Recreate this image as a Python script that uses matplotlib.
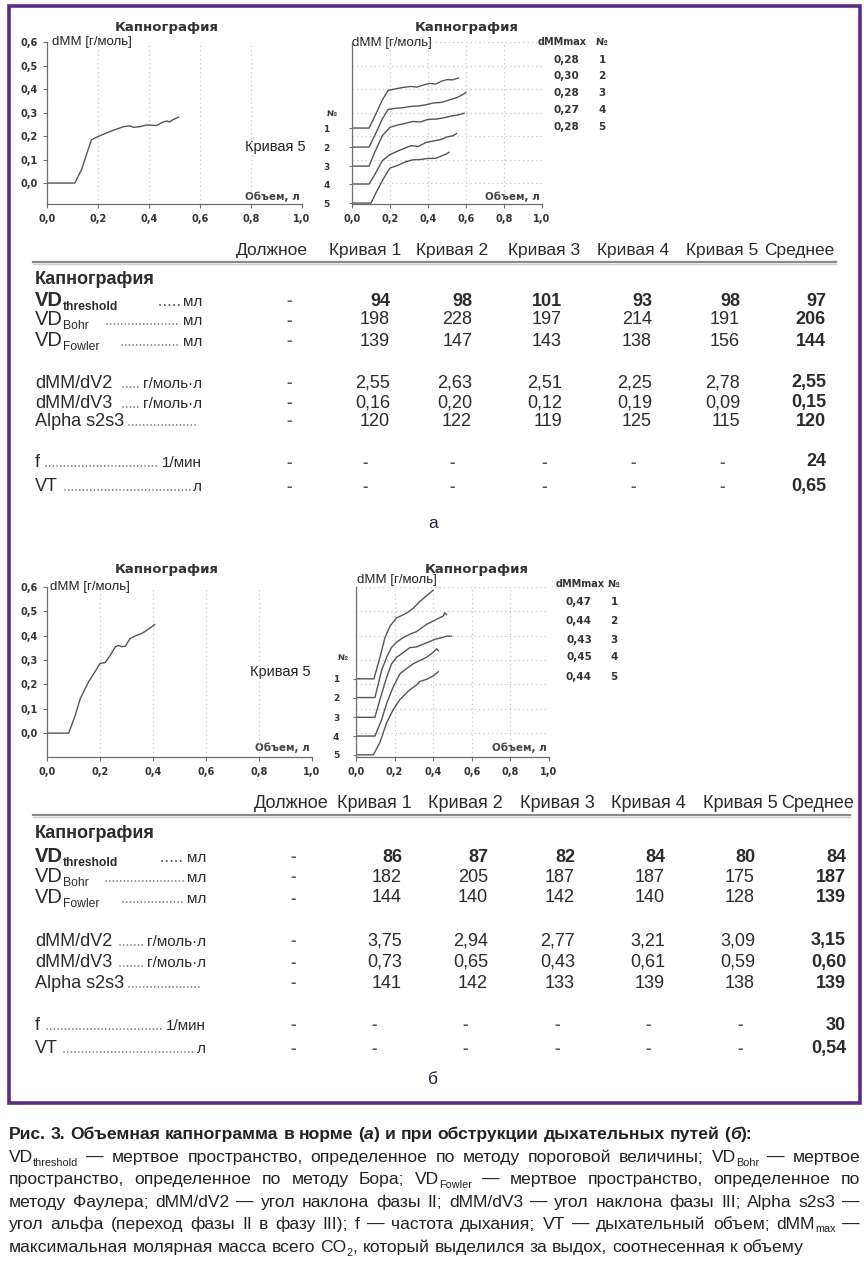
import re
import matplotlib
matplotlib.use("Agg")
import matplotlib.pyplot as plt
from matplotlib.patches import Rectangle

# ── 0.  Data ────────────────────────────────────────────────────────────────
COLS = ["Должное", "Кривая 1", "Кривая 2", "Кривая 3", "Кривая 4", "Кривая 5", "Среднее"]
ROW_LABELS = ["VD_{threshold}", "VD_{Bohr}", "VD_{Fowler}", "dMM/dV2", "dMM/dV3",
              "Alpha s2s3", "f", "VT"]
ROW_UNITS = ["мл", "мл", "мл", "г/моль·л", "г/моль·л", "", "1/мин", "л"]
CURVE_NO = ["1", "2", "3", "4", "5"]
X_TICKS = [0.0, 0.2, 0.4, 0.6, 0.8, 1.0]
Y_TICKS = [0.0, 0.1, 0.2, 0.3, 0.4, 0.5, 0.6]

# panel а (норма): Кривая 1..5 + Среднее
A_VD_THRESHOLD = [94, 98, 101, 93, 98, 97]
A_VD_BOHR = [198, 228, 197, 214, 191, 206]
A_VD_FOWLER = [139, 147, 143, 138, 156, 144]
A_DMM_DV2 = [2.55, 2.63, 2.51, 2.25, 2.78, 2.55]
A_DMM_DV3 = [0.16, 0.20, 0.12, 0.19, 0.09, 0.15]
A_ALPHA = [120, 122, 119, 125, 115, 120]
A_F = [None, None, None, None, None, 24]
A_VT = [None, None, None, None, None, 0.65]
A_DMM_MAX = [0.28, 0.30, 0.28, 0.27, 0.28]

# panel б (обструкция)
B_VD_THRESHOLD = [86, 87, 82, 84, 80, 84]
B_VD_BOHR = [182, 205, 187, 187, 175, 187]
B_VD_FOWLER = [144, 140, 142, 140, 128, 139]
B_DMM_DV2 = [3.75, 2.94, 2.77, 3.21, 3.09, 3.15]
B_DMM_DV3 = [0.73, 0.65, 0.43, 0.61, 0.59, 0.60]
B_ALPHA = [141, 142, 133, 139, 138, 139]
B_F = [None, None, None, None, None, 30]
B_VT = [None, None, None, None, None, 0.54]
B_DMM_MAX = [0.47, 0.44, 0.43, 0.45, 0.44]

# capnogram, panel а, curve 5 (left chart)
A5_X = [0, 0.109, 0.135, 0.174, 0.2, 0.246, 0.3, 0.325, 0.34, 0.364, 0.39, 0.43,
        0.456, 0.47, 0.48, 0.495, 0.515]
A5_Y = [0, 0, 0.056, 0.184, 0.198, 0.219, 0.24, 0.243, 0.237, 0.24, 0.247, 0.245,
        0.26, 0.264, 0.26, 0.27, 0.28]

# capnograms, panel а, curves 1..5 (right chart, rise above own baseline)
A_X = [
    [0, 0.09, 0.12, 0.16, 0.19, 0.23, 0.27, 0.31, 0.34, 0.38, 0.41, 0.44, 0.47, 0.50, 0.53, 0.56],
    [0, 0.09, 0.12, 0.16, 0.19, 0.23, 0.27, 0.31, 0.35, 0.39, 0.43, 0.47, 0.51, 0.55, 0.58, 0.60],
    [0, 0.09, 0.12, 0.16, 0.20, 0.24, 0.28, 0.32, 0.36, 0.40, 0.44, 0.48, 0.52, 0.56, 0.59],
    [0, 0.09, 0.12, 0.16, 0.20, 0.24, 0.27, 0.31, 0.35, 0.39, 0.43, 0.47, 0.50, 0.53, 0.55],
    [0, 0.10, 0.13, 0.17, 0.20, 0.24, 0.28, 0.32, 0.36, 0.40, 0.44, 0.47, 0.50, 0.51],
]
A_Y = [
    [0, 0, 0.05, 0.12, 0.16, 0.167, 0.173, 0.177, 0.174, 0.184, 0.19, 0.187, 0.199, 0.206, 0.205, 0.213],
    [0, 0, 0.05, 0.12, 0.16, 0.165, 0.168, 0.173, 0.175, 0.18, 0.188, 0.19, 0.20, 0.21, 0.222, 0.233],
    [0, 0, 0.06, 0.13, 0.165, 0.175, 0.182, 0.19, 0.188, 0.199, 0.20, 0.205, 0.213, 0.218, 0.225],
    [0, 0, 0.04, 0.10, 0.125, 0.14, 0.15, 0.163, 0.16, 0.177, 0.183, 0.19, 0.20, 0.205, 0.215],
    [0, 0, 0.05, 0.11, 0.149, 0.16, 0.175, 0.184, 0.185, 0.19, 0.19, 0.20, 0.21, 0.216],
]

# capnogram, panel б, curve 5 (left chart)
B5_X = [0, 0.082, 0.107, 0.126, 0.157, 0.189, 0.2, 0.22, 0.239, 0.258, 0.27, 0.283,
        0.296, 0.314, 0.34, 0.358, 0.377, 0.4, 0.406]
B5_Y = [0, 0, 0.075, 0.143, 0.211, 0.266, 0.286, 0.29, 0.32, 0.355, 0.36, 0.355,
        0.357, 0.389, 0.402, 0.409, 0.423, 0.44, 0.446]

# capnograms, panel б, curves 1..5
B_X = [
    [0, 0.093, 0.124, 0.15, 0.176, 0.21, 0.245, 0.262, 0.297, 0.33, 0.366, 0.40],
    [0, 0.098, 0.133, 0.159, 0.184, 0.21, 0.245, 0.279, 0.314, 0.366, 0.417, 0.452, 0.46, 0.469],
    [0, 0.098, 0.133, 0.159, 0.184, 0.21, 0.245, 0.279, 0.314, 0.366, 0.409, 0.443, 0.469, 0.495],
    [0, 0.098, 0.133, 0.159, 0.193, 0.228, 0.262, 0.297, 0.331, 0.366, 0.40, 0.417, 0.426],
    [0, 0.09, 0.124, 0.159, 0.193, 0.228, 0.262, 0.279, 0.314, 0.331, 0.366, 0.40, 0.426],
]
B_Y = [
    [0, 0, 0.088, 0.169, 0.216, 0.25, 0.263, 0.27, 0.29, 0.317, 0.341, 0.364],
    [0, 0, 0.112, 0.166, 0.206, 0.227, 0.247, 0.26, 0.271, 0.301, 0.321, 0.335, 0.348, 0.342],
    [0, 0, 0.097, 0.165, 0.219, 0.246, 0.266, 0.286, 0.289, 0.306, 0.32, 0.327, 0.333, 0.333],
    [0, 0, 0.067, 0.135, 0.202, 0.256, 0.277, 0.297, 0.31, 0.324, 0.344, 0.358, 0.351],
    [0, 0, 0.051, 0.132, 0.186, 0.227, 0.254, 0.267, 0.287, 0.301, 0.31, 0.324, 0.341],
]

CAPTION = [
    "Рис. 3. Объемная капнограмма в норме (*а*) и при обструкции дыхательных путей (*б*):",
    "VD_{threshold} — мертвое пространство, определенное по методу пороговой величины; VD_{Bohr} — мертвое",
    "пространство, определенное по методу Бора; VD_{Fowler} — мертвое пространство, определенное по",
    "методу Фаулера; dMM/dV2 — угол наклона фазы II; dMM/dV3 — угол наклона фазы III; Alpha s2s3 —",
    "угол альфа (переход фазы II в фазу III); f — частота дыхания; VT — дыхательный объем; dMM_{max} —",
    "максимальная молярная масса всего CO_{2}, который выделился за выдох, соотнесенная к объему",
]

# ── 1.  Style ───────────────────────────────────────────────────────────────
W, H = 868, 1264
TXT = "#2b2b2b"
AXC = "#6e6e6e"
CURVE = "#555555"
GRID = "#c8c8c8"
PURPLE = "#5b2d84"
SANS = "Liberation Sans"
CH = "DejaVu Sans"

fig = plt.figure(figsize=(W / 100, H / 100), dpi=100)
bg = fig.add_axes([0, 0, 1, 1])
bg.set_xlim(0, W)
bg.set_ylim(H, 0)
bg.axis("off")
R = fig.canvas.get_renderer()


def tw(t):
    return t.get_window_extent(R).width


def dec(v):
    if v is None:
        return "-"
    if isinstance(v, float):
        return f"{v:.2f}".replace(".", ",")
    return str(v)


def rich(x, y, markup, size, weight="normal", color=TXT, sub_scale=0.62):
    """draw markup (_{sub}, *italic*) at baseline y, return texts and width"""
    texts, x0 = [], x
    for m in re.finditer(r"_\{(.*?)\}|\*(.*?)\*|([^_*]+)", markup):
        sub, it, norm = m.groups()
        s = next(g for g in (sub, it, norm) if g is not None)
        fs = size * sub_scale if sub is not None else size
        dy = size * 100 / 72 * 0.2 if sub is not None else 0
        t = bg.text(x, y + dy, s, fontsize=fs, fontweight=weight, family=SANS,
                    fontstyle="italic" if it is not None else "normal",
                    color=color, va="baseline", ha="left")
        texts.append(t)
        x += tw(t)
    return texts, x - x0


def shift(texts, dx):
    for t in texts:
        t.set_x(t.get_position()[0] + dx)


# ── 2.  Charts ──────────────────────────────────────────────────────────────
def chart(l, t, r, b, ylo):
    ax = fig.add_axes([l / W, 1 - b / H, (r - l) / W, (b - t) / H])
    ax.set_xlim(0, 1.0)
    ax.set_ylim(ylo, 0.6)
    ax.patch.set_visible(False)
    for s in ("top", "right"):
        ax.spines[s].set_visible(False)
    for s in ("left", "bottom"):
        ax.spines[s].set_color(AXC)
        ax.spines[s].set_linewidth(0.9)
    ax.set_xticks(X_TICKS, [f"{v:.1f}".replace(".", ",") for v in X_TICKS],
                  fontweight="bold", fontsize=7, color="#333333", family=CH)
    ax.set_yticks(Y_TICKS, minor=True)
    ax.grid(True, axis="x", which="major", ls=(0, (1, 2.5)), color=GRID, lw=0.9)
    ax.grid(True, axis="y", which="minor", ls=(0, (1, 2.5)), color=GRID, lw=0.9)
    ax.tick_params(which="major", length=3, width=0.8, color=AXC, pad=4)
    ax.tick_params(which="minor", length=0)
    return ax


def single_chart(l, t, r, b, ylo, xs, ys):
    ax = chart(l, t, r, b, ylo)
    ax.set_yticks(Y_TICKS, [f"{v:.1f}".replace(".", ",") for v in Y_TICKS],
                  fontweight="bold", fontsize=7, color="#333333", family=CH)
    ax.plot(xs, ys, color=CURVE, lw=1.0)
    return ax


def stack_chart(l, t, r, b, ylo, bases, xs, ys, pad):
    ax = chart(l, t, r, b, ylo)
    ax.set_yticks(bases, CURVE_NO, fontweight="bold", fontsize=6.5,
                  color="#333333", family=CH)
    ax.tick_params(axis="y", which="major", length=2, pad=pad)
    for base, cx, cy in zip(bases, xs, ys):
        ax.plot(cx, [base + v for v in cy], color=CURVE, lw=1.0)
    return ax


def chart_texts(title_xy, dmm_xy, vol_xy, curve5_xy=None):
    bg.text(*title_xy, "Капнография", fontsize=9.5, fontweight="bold",
            family=CH, color="#333333", ha="center", va="center")
    bg.text(*dmm_xy, "dMM [г/моль]", fontsize=9.5, family=SANS, color="#222222",
            ha="left", va="center")
    bg.text(*vol_xy, "Объем, л", fontsize=7.5, fontweight="bold", family=CH,
            color="#444444", ha="right", va="center")
    if curve5_xy:
        bg.text(*curve5_xy, "Кривая 5", fontsize=10.5, family=SANS, color="#222222",
                ha="left", va="center")


def dmm_table(hx, nx, hy, vx, rows_y, vals, no_xy):
    bg.text(hx, hy, "dMMmax", fontsize=7, fontweight="bold", family=CH,
            color="#333333", ha="center", va="center")
    bg.text(nx, hy, "№", fontsize=7, fontweight="bold", family=CH,
            color="#333333", ha="center", va="center")
    for y, v, n in zip(rows_y, vals, CURVE_NO):
        bg.text(vx, y, dec(v), fontsize=7.5, fontweight="bold", family=CH,
                color="#333333", ha="center", va="center")
        bg.text(nx, y, n, fontsize=7.5, fontweight="bold", family=CH,
                color="#333333", ha="center", va="center")
    bg.text(*no_xy, "№", fontsize=6, fontweight="bold", family=CH,
            color="#333333", ha="center", va="center")


# panel а
single_chart(47, 42, 302, 204, -0.089, A5_X, A5_Y)
chart_texts((167, 27), (52, 42), (300, 197), (245, 147))
stack_chart(352, 42, 542, 204, -0.089, [0.234, 0.153, 0.072, -0.004, -0.085],
            A_X, A_Y, pad=14)
chart_texts((467, 27), (352, 43), (540, 197))
dmm_table(562, 602, 42, 566, [60, 76, 93, 110, 127], A_DMM_MAX, (332, 114))

# panel б
single_chart(47, 587, 312, 757, -0.098, B5_X, B5_Y)
chart_texts((167, 570), (50, 587), (310, 748), (250, 672))
stack_chart(356, 587, 549, 757, -0.098, [0.223, 0.146, 0.065, -0.012, -0.089],
            B_X, B_Y, pad=10)
chart_texts((477, 569), (357, 580), (547, 748))
dmm_table(580, 614, 584, 579, [602, 621, 640, 657, 677], B_DMM_MAX, (343, 658))


# ── 3.  Tables ──────────────────────────────────────────────────────────────
def table(vals, hdr_y, line_x, row_y, hdr_x, val_r, dash_x, dots_x, unit_r, letter,
          letter_xy, hdr_size):
    for x, c in zip(hdr_x, COLS):
        bg.text(x, hdr_y, c, fontsize=hdr_size, family=SANS, color=TXT,
                ha="center", va="center")
    bg.plot(line_x, [hdr_y + 12, hdr_y + 12], color="#8a8a8a", lw=1.6)
    bg.plot(line_x, [hdr_y + 14, hdr_y + 14], color="#d0d0d0", lw=1.0)
    bg.text(35, row_y[0], "Капнография", fontsize=13, fontweight="bold",
            family=SANS, color=TXT, ha="left", va="center")
    for i, (lab, unit, y) in enumerate(zip(ROW_LABELS, ROW_UNITS, row_y[1:])):
        bold = "bold" if i == 0 else "normal"
        base = y + 5
        size = 14.5 if lab.startswith("VD") else 13
        _, lw_ = rich(35, base, lab, size, bold, sub_scale=0.6)
        if unit:
            u = bg.text(unit_r, base, unit, fontsize=11, family=SANS, color=TXT,
                        ha="right", va="baseline")
            dot_end = unit_r - tw(u) - 3
        else:
            dot_end = unit_r - 6
        dot_start = max(dots_x[i], 35 + lw_ + 5)
        bg.plot([dot_start, dot_end], [base - 1, base - 1], color="#555555",
                lw=1.4 if i == 0 else 1.1, ls=(0, (0.1, 2.3)), dash_capstyle="round")
        bg.text(dash_x, y, "-", fontsize=12, fontweight="bold", family=SANS,
                color="#555555", ha="center", va="center")
        for j, v in enumerate(vals[i]):
            w = "bold" if (i == 0 or j == 5) else "normal"
            if v is None:
                bg.text(hdr_x[j + 1], y, "-", fontsize=12, fontweight="bold",
                        family=SANS, color="#555555", ha="center", va="center")
            else:
                bg.text(val_r[j], y, dec(v), fontsize=13, fontweight=w, family=SANS,
                        color=TXT, ha="right", va="center")
    bg.text(*letter_xy, letter, fontsize=12.5, family=SANS, color="#1d2640",
            ha="center", va="center")


A_VALS = [A_VD_THRESHOLD, A_VD_BOHR, A_VD_FOWLER, A_DMM_DV2, A_DMM_DV3, A_ALPHA, A_F, A_VT]
B_VALS = [B_VD_THRESHOLD, B_VD_BOHR, B_VD_FOWLER, B_DMM_DV2, B_DMM_DV3, B_ALPHA, B_F, B_VT]

table(A_VALS, 250, [33, 836], [280, 301, 320, 341, 383, 403, 421, 462, 486],
      [272, 365, 452, 544, 633, 722, 799], [390, 472, 562, 652, 740, 826], 289,
      [160, 107, 122, 123, 123, 125, 46, 65], 202, "а", (433, 523), 12.5)
table(B_VALS, 803, [33, 850], [833, 857, 877, 898, 941, 962, 983, 1025, 1048],
      [291, 374, 465, 557, 648, 740, 818], [402, 488, 575, 665, 755, 846], 293,
      [162, 106, 123, 120, 120, 126, 47, 64], 206, "б", (433, 1080), 13)

# frame
bg.add_patch(Rectangle((9, 6), 851, 1097, fill=False, ec=PURPLE, lw=2.6))

# ── 4.  Caption ─────────────────────────────────────────────────────────────
cap_y = [1139, 1162, 1184, 1207, 1229, 1252]
for k, (line, y) in enumerate(zip(CAPTION, cap_y)):
    weight = "bold" if k == 0 else "normal"
    size = 12.6
    words = line.split(" ")
    parts = [rich(0, y, w, size, weight, color="#222222") for w in words]
    total = sum(p[1] for p in parts)
    sp = bg.text(0, -50, "a a", fontsize=size, family=SANS, fontweight=weight)
    sp2 = bg.text(0, -50, "aa", fontsize=size, family=SANS, fontweight=weight)
    space = tw(sp) - tw(sp2)
    sp.remove()
    sp2.remove()
    if 1 <= k <= 4:
        gap = max((860 - 9 - total) / (len(words) - 1), space * 0.6)
    else:
        gap = space
    x = 9
    for texts, w in parts:
        shift(texts, x)
        x += w + gap

fig.savefig("out.png", dpi=100, facecolor="white")
